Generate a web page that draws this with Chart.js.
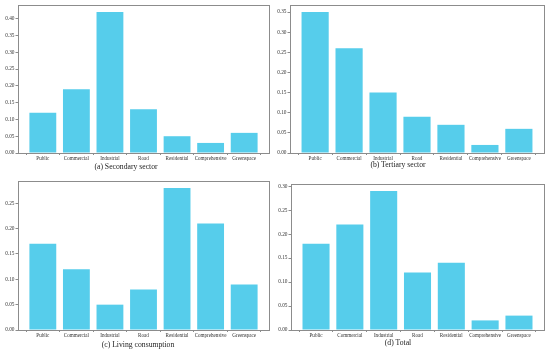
<!DOCTYPE html>
<html>
<head>
<meta charset="utf-8">
<script src="https://cdn.jsdelivr.net/npm/chart.js@4.4.1/dist/chart.umd.min.js"></script>
<style>
  body { margin: 0; background: #fff; }
  #wrap { position: relative; width: 550px; height: 353px; overflow: hidden; }
  canvas { position: absolute; }
  .cap { position: absolute; transform: translate(-50%, -50%); font-family: "Liberation Serif", serif; font-size: 7.7px; color: #222; white-space: nowrap; }
</style>
</head>
<body>
<div id="wrap">
  <canvas id="c1" style="left:0;top:0" width="275" height="176"></canvas>
  <canvas id="c2" style="left:275px;top:0" width="275" height="176"></canvas>
  <canvas id="c3" style="left:0;top:176px" width="275" height="177"></canvas>
  <canvas id="c4" style="left:275px;top:176px" width="275" height="177"></canvas>
  <div class="cap" style="left:126px;top:166px">(a) Secondary sector</div>
  <div class="cap" style="left:398px;top:164px">(b) Tertiary sector</div>
  <div class="cap" style="left:138px;top:344px">(c) Living consumption</div>
  <div class="cap" style="left:398px;top:342px">(d) Total</div>
</div>
<script>
var categories = ['Public', 'Commercial', 'Industrial', 'Road', 'Residential', 'Comprehensive', 'Greenspace'];
var secondary = [0.12, 0.19, 0.42, 0.13, 0.05, 0.03, 0.06];
var tertiary = [0.35, 0.26, 0.15, 0.09, 0.07, 0.02, 0.06];
var living = [0.17, 0.12, 0.05, 0.08, 0.28, 0.21, 0.09];
var total = [0.18, 0.22, 0.29, 0.12, 0.14, 0.02, 0.03];

var barColor = '#56cdeb';
var frameColor = '#8c8c8c';

// box around the plot area (matplotlib spines)
var frame = {
  id: 'frame',
  afterDraw: function(chart) {
    var a = chart.chartArea, ctx = chart.ctx;
    ctx.save();
    ctx.strokeStyle = frameColor;
    ctx.lineWidth = 1;
    ctx.strokeRect(Math.round(a.left) + 0.5, Math.round(a.top) + 0.5,
      Math.round(a.right - a.left), Math.round(a.bottom - a.top));
    ctx.restore();
  }
};

function makeChart(id, values, yMax, yWidth, pad) {
  var points = [];
  for (var i in values) {
    points.push({x: Number(i), y: values[i]});
  }
  return new Chart(document.getElementById(id), {
    type: 'bar',
    data: {
      datasets: [{
        data: points,
        backgroundColor: barColor,
        borderColor: '#ffffff',
        borderWidth: 0,
        categoryPercentage: 0.8,
        barPercentage: 1
      }]
    },
    options: {
      responsive: false,
      animation: false,
      layout: { padding: pad },
      plugins: { legend: { display: false }, tooltip: { enabled: false } },
      scales: {
        x: {
          type: 'linear',
          min: -0.74,
          max: 6.74,
          offset: false,
          border: { display: false },
          grid: { drawOnChartArea: false, drawTicks: true, tickLength: 2, color: frameColor },
          afterFit: function(s) { s.height = 23; },
          ticks: {
            stepSize: 1,
            includeBounds: false,
            autoSkip: false,
            maxRotation: 0,
            padding: 1,
            color: '#333',
            font: { family: 'Liberation Serif', size: 5.1 },
            callback: function(v) { return categories[v]; }
          }
        },
        y: {
          min: 0,
          max: yMax,
          border: { display: false },
          grid: { drawOnChartArea: false, drawTicks: true, tickLength: 2.5, color: frameColor },
          afterFit: function(s) { s.width = yWidth; },
          ticks: {
            stepSize: 0.05,
            includeBounds: false,
            padding: 1,
            color: '#333',
            font: { family: 'Liberation Serif', size: 5.3 },
            callback: function(v) { return v.toFixed(2); }
          }
        }
      }
    },
    plugins: [frame]
  });
}

makeChart('c1', secondary, 0.441, 18, { top: 5, right: 6, left: 0, bottom: 0 });
makeChart('c2', tertiary, 0.3675, 15, { top: 5, right: 6, left: 0, bottom: 0 });
makeChart('c3', living, 0.294, 18, { top: 5, right: 6, left: 0, bottom: 0 });
makeChart('c4', total, 0.3045, 16, { top: 8, right: 6, left: 0, bottom: 0 });
</script>
</body>
</html>
